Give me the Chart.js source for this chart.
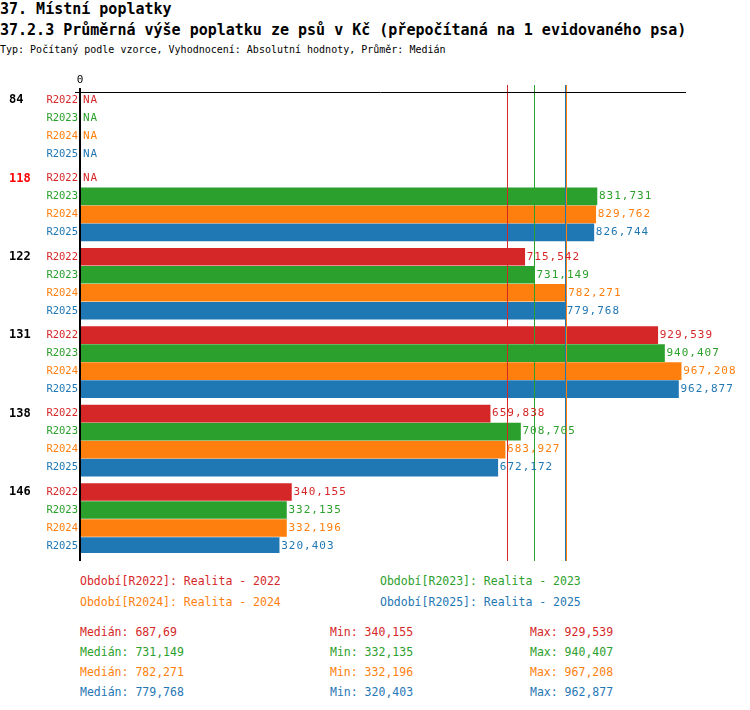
<!DOCTYPE html>
<html lang="cs">
<head>
<meta charset="UTF-8" />
<title>Průměrná výše poplatku ze psů</title>
<script src="https://cdn.jsdelivr.net/npm/chart.js"></script>
<style>
  body { margin: 0; width: 750px; height: 710px; position: relative; font-family: "DejaVu Sans Mono", monospace; background: #fff; }
  .t { position: absolute; white-space: pre; font-size: 11.5px; }
  #wrap { position: absolute; left: 0; top: 0; width: 750px; height: 570px; }
</style>
</head>
<body>
<div class="t" style="left:0;top:0;font-size:15px;font-weight:bold">37. Místní poplatky</div>
<div class="t" style="left:0;top:21px;font-size:15px;font-weight:bold">37.2.3 Průměrná výše poplatku ze psů v Kč (přepočítaná na 1 evidovaného psa)</div>
<div class="t" style="left:0;top:44px;font-size:10px">Typ: Počítaný podle vzorce, Vyhodnocení: Absolutní hodnoty, Průměr: Medián</div>
<div id="wrap"><canvas id="c" width="750" height="570"></canvas></div>
<div id="bottom"></div>

<script>
const groups = ['84', '118', '122', '131', '138', '146'];
const periods = ['R2022', 'R2023', 'R2024', 'R2025'];
const colors = ['#d62728', '#2ca02c', '#ff7f0e', '#1f77b4'];
const legendText = ['Období[R2022]: Realita - 2022', 'Období[R2023]: Realita - 2023', 'Období[R2024]: Realita - 2024', 'Období[R2025]: Realita - 2025'];
// values per period, index = group
const r2022 = [null, null, 715.542, 929.539, 659.838, 340.155];
const r2023 = [null, 831.731, 731.149, 940.407, 708.705, 332.135];
const r2024 = [null, 829.762, 782.271, 967.208, 683.927, 332.196];
const r2025 = [null, 826.744, 779.768, 962.877, 672.172, 320.403];
const series = [r2022, r2023, r2024, r2025];
const medians = [687.69, 731.149, 782.271, 779.768];
const mins = [340.155, 332.135, 332.196, 320.403];
const maxs = [929.539, 940.407, 967.208, 962.877];

const groupStep = 4.356;
const fmt = v => String(v).replace('.', ',');

const datasets = series.map((vals, p) => ({
  label: periods[p],
  data: vals.map((v, g) => ({ x: v, y: g * groupStep + p })),
  backgroundColor: colors[p],
  barThickness: 17,
  grouped: false
}));

const labelsPlugin = {
  id: 'labels',
  afterDraw(chart) {
    const ctx = chart.ctx, xs = chart.scales.x, ys = chart.scales.y;
    ctx.save();
    // median lines
    medians.forEach((m, p) => {
      ctx.strokeStyle = colors[p]; ctx.lineWidth = 1;
      const x = Math.round(xs.getPixelForValue(m)) + 0.5;
      ctx.beginPath(); ctx.moveTo(x, 85); ctx.lineTo(x, 561); ctx.stroke();
    });
    // axes
    ctx.strokeStyle = '#000';
    ctx.lineWidth = 1;
    ctx.beginPath(); ctx.moveTo(75, 92.5); ctx.lineTo(686, 92.5); ctx.stroke();
    ctx.lineWidth = 2;
    const x0 = xs.getPixelForValue(0);
    ctx.beginPath(); ctx.moveTo(x0, 88); ctx.lineTo(x0, 561); ctx.stroke();
    ctx.font = '11px "DejaVu Sans Mono"';
    ctx.fillStyle = '#000'; ctx.textAlign = 'center'; ctx.textBaseline = 'middle';
    ctx.fillText('0', x0, 80);
    groups.forEach((gName, g) => {
      ctx.font = 'bold 12px "DejaVu Sans Mono"';
      ctx.textAlign = 'left';
      ctx.letterSpacing = '0px';
      ctx.fillStyle = gName === '118' ? '#ff0000' : '#000';
      ctx.fillText(gName, 9, ys.getPixelForValue(g * groupStep));
      series.forEach((vals, p) => {
        const y = ys.getPixelForValue(g * groupStep + p);
        ctx.fillStyle = colors[p];
        ctx.font = '10.5px "DejaVu Sans Mono"';
        ctx.letterSpacing = '0px';
        ctx.textAlign = 'right';
        ctx.fillText(periods[p], 78, y);
        ctx.textAlign = 'left';
        ctx.font = '11px "DejaVu Sans Mono"';
        ctx.letterSpacing = '1px';
        const v = vals[g];
        if (v === null) ctx.fillText('NA', x0 + 3, y);
        else ctx.fillText(fmt(v), xs.getPixelForValue(v) + 2, y);
      });
    });
    ctx.restore();
  }
};

new Chart(document.getElementById('c'), {
  type: 'bar',
  data: { datasets },
  options: {
    indexAxis: 'y',
    responsive: false,
    animation: false,
    layout: { padding: { left: 80, right: 64, top: 92, bottom: 17 } },
    plugins: { legend: { display: false }, tooltip: { enabled: false } },
    scales: {
      x: { type: 'linear', min: 0, max: 975, display: false, offset: false },
      y: { type: 'linear', reverse: true, min: -0.444, max: 25.17, display: false, offset: false }
    }
  },
  plugins: [labelsPlugin]
});

// legend and statistics
const bottom = document.getElementById('bottom');
const add = (txt, x, y, c) => {
  const d = document.createElement('div');
  d.className = 't'; d.textContent = txt;
  d.style.left = x + 'px'; d.style.top = y + 'px'; d.style.color = c;
  bottom.appendChild(d);
};
legendText.forEach((t, p) => add(t, p % 2 ? 380 : 80, 574 + Math.floor(p / 2) * 21, colors[p]));
periods.forEach((_, p) => {
  const y = 625 + p * 20;
  add('Medián: ' + fmt(medians[p]), 80, y, colors[p]);
  add('Min: ' + fmt(mins[p]), 330, y, colors[p]);
  add('Max: ' + fmt(maxs[p]), 530, y, colors[p]);
});
</script>
</body>
</html>
